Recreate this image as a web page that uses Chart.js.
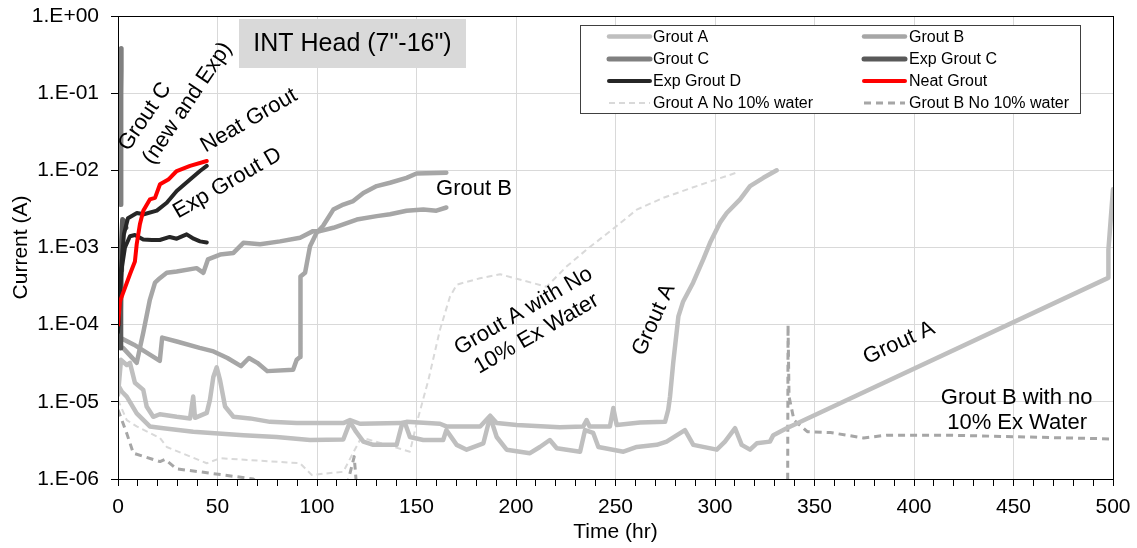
<!DOCTYPE html>
<html><head><meta charset="utf-8">
<script src="https://cdn.jsdelivr.net/npm/chart.js@4.4.1/dist/chart.umd.min.js"></script>
<style>html,body{margin:0;padding:0;background:#fff;overflow:hidden}canvas{display:block}</style>
</head><body>
<canvas id="c" width="1137" height="548" style="width:1137px;height:548px"></canvas>
<script>
const FONT = "'Liberation Sans', Arial, sans-serif";

// ---- tick labels ----
const xLabelValues = [0, 50, 100, 150, 200, 250, 300, 350, 400, 450, 500];
const xTickLabels = ['0','50','100','150','200','250','300','350','400','450','500'];
const yTickValues = [1e-6, 1e-5, 1e-4, 1e-3, 1e-2, 1e-1, 1];
const yTickLabels = ['1.E-06','1.E-05','1.E-04','1.E-03','1.E-02','1.E-01','1.E+00'];

// ---- series: [time (hr), current (A)] ----
const groutA1 = [[0,1.23e-5],[1.5,3.5e-5],[4.4,3.0e-5],[6,3.2e-5],[8.5,1.77e-5],[12.7,1.43e-5],[14.4,8.7e-6],[17.7,6.4e-6],[21,6.9e-6],[29.5,6.4e-6],[36.2,6.1e-6],[37.8,1.17e-5],[38.7,6.2e-6],[44.6,7.2e-6],[46.2,1.06e-5],[47.9,2.1e-5],[49.6,2.8e-5],[51.3,1.9e-5],[53.8,8.7e-6],[58,6.4e-6],[66.3,6.1e-6],[76.4,5.5e-6],[89.8,5.3e-6],[113.2,5.3e-6],[116.6,5.8e-6],[121.6,5.2e-6],[141.7,5.3e-6],[145,5.5e-6],[161.8,5.2e-6],[165,4.8e-6],[182,4.8e-6],[187,6.6e-6],[190.3,5.3e-6],[200.4,5.0e-6],[222,4.7e-6],[233.8,4.8e-6],[235.5,5.8e-6],[237,4.8e-6],[247.2,4.8e-6],[248.9,8.3e-6],[250.6,5.0e-6],[262.3,5.4e-6],[274.9,5.5e-6],[276.5,7.9e-6],[277.4,1.17e-5],[279,3.2e-5],[281.6,1.28e-4],[284,2.0e-4],[289,3.5e-4],[294.1,7.0e-4],[297.5,1.15e-3],[302.5,2.1e-3],[305.9,2.8e-3],[312.6,4.2e-3],[317.6,6.25e-3],[324.3,8.0e-3],[331,1.0e-2]];
const groutA2 = [[0,1.66e-5],[2,1.35e-5],[4.4,1.17e-5],[9.4,7.1e-6],[16,4.8e-6],[22.8,4.55e-6],[37.8,4.1e-6],[63,3.7e-6],[79.7,3.5e-6],[96.5,3.2e-6],[113.2,3.25e-6],[116.6,5.5e-6],[119.6,4.1e-6],[123.3,3.05e-6],[128.3,2.77e-6],[140,2.77e-6],[142.6,5.0e-6],[144.2,5.3e-6],[146.7,3.5e-6],[153.4,3.2e-6],[163.4,3.2e-6],[165,4.3e-6],[170.2,2.77e-6],[175.2,2.4e-6],[183.6,2.9e-6],[187,6.4e-6],[190.3,3.5e-6],[195.3,2.4e-6],[207,2.16e-6],[212,2.6e-6],[217,3.2e-6],[220.5,2.5e-6],[232.2,2.26e-6],[234.7,4.3e-6],[238.8,3.95e-6],[241.4,2.6e-6],[254,2.26e-6],[260.7,2.6e-6],[270.7,2.77e-6],[275.7,3.05e-6],[284.9,4.3e-6],[289.1,2.77e-6],[300.9,2.4e-6],[305,3.05e-6],[310.1,4.55e-6],[313.4,2.77e-6],[317.6,2.4e-6],[321,2.9e-6],[327.6,3.05e-6],[329.3,3.7e-6],[336,4.55e-6],[497.6,4.04e-4],[497.7,9.4e-4],[500,5.7e-3]];
const groutB1 = [[0,7.0e-5],[8,5.5e-5],[16,4.1e-5],[21,3.4e-5],[22.2,6.8e-5],[30,6.0e-5],[41,5.0e-5],[48,4.5e-5],[55,3.7e-5],[61.8,2.9e-5],[65.8,3.7e-5],[70,3.2e-5],[75,2.5e-5],[88,2.6e-5],[89.8,3.5e-5],[91.5,3.8e-5],[91.7,4.2e-4],[94,4.7e-4],[96.5,1.04e-3],[99.8,1.55e-3],[103,1.9e-3],[108.2,3.1e-3],[113.2,3.6e-3],[118.2,4.0e-3],[123.3,5.1e-3],[130,6.25e-3],[136.7,6.9e-3],[145,8.0e-3],[150,9.1e-3],[165,9.3e-3]];
const groutB2 = [[2.5,5e-5],[6,4e-5],[9.4,3.2e-5],[12.7,7.9e-5],[16,2.1e-4],[18.6,3.5e-4],[21,4.0e-4],[24.5,4.7e-4],[29.5,4.9e-4],[39.5,5.4e-4],[42.9,4.7e-4],[45.2,7.0e-4],[51.3,8.1e-4],[58,8.5e-4],[63,1.15e-3],[71.4,1.1e-3],[81.4,1.2e-3],[91.5,1.34e-3],[98,1.63e-3],[101.5,1.63e-3],[108.2,1.8e-3],[120,2.3e-3],[130,2.55e-3],[136.7,2.7e-3],[145,3.0e-3],[153.4,3.1e-3],[160,3.0e-3],[165,3.3e-3]];
const groutC = [[1.3,3.6e-3],[1.4,1.0e-2],[1.5,3.0e-2],[1.5,0.1],[1.6,0.2],[1.6,0.38]];
const expGroutC = [[1.2,5e-5],[1.4,1.5e-4],[1.6,5e-4],[1.8,1.2e-3],[2.3,2.3e-3],[3,2.2e-3],[4,1.8e-3]];
const expGroutD1 = [[0,1.0e-4],[0.3,1.8e-4],[1.9,5.4e-4],[3.5,1.0e-3],[6,1.4e-3],[8.5,1.45e-3],[12.7,1.27e-3],[17,1.25e-3],[21,1.25e-3],[26,1.37e-3],[29.5,1.3e-3],[34.5,1.48e-3],[38,1.3e-3],[41.2,1.2e-3],[44.6,1.16e-3]];
const expGroutD2 = [[0,8e-5],[1.5,5e-4],[3,1.5e-3],[5,2.4e-3],[9.5,2.8e-3],[13,2.7e-3],[19.5,3.0e-3],[24.5,3.8e-3],[29.5,5.4e-3],[36.2,7.6e-3],[41.2,9.8e-3],[44.6,1.14e-2]];
const neatGrout = [[0,1.0e-4],[0.15,1.1e-4],[1,2.0e-4],[3.5,3.0e-4],[6,4.5e-4],[8.5,6.6e-4],[9.4,1.1e-3],[11,2.0e-3],[12.7,3.0e-3],[16,4.2e-3],[18.6,4.4e-3],[21.1,6.6e-3],[25.3,7.6e-3],[29.5,9.8e-3],[36.2,1.14e-2],[44.6,1.32e-2]];
const groutANoWater = [[0,1.06e-5],[4.4,5.8e-6],[9.4,4.8e-6],[21.1,3.4e-6],[24.5,2.6e-6],[44.6,1.6e-6],[51.3,1.86e-6],[91.5,1.6e-6],[97.3,1.13e-6],[113.2,1.24e-6],[117.6,2.05e-6],[121.6,3.2e-6],[123.3,3.4e-6],[146.7,2.26e-6],[150.1,5.3e-6],[156,1.93e-5],[161.8,8.6e-5],[166.8,2.3e-4],[170.2,3.3e-4],[181.9,4.0e-4],[192,4.5e-4],[215.4,3.1e-4],[225.5,5.7e-4],[235.5,9.4e-4],[250.6,1.9e-3],[260.7,3.1e-3],[274,4.4e-3],[290.8,6.25e-3],[311.7,9.5e-3]];
const groutBNoWater = [[0,7.9e-6],[4.4,3.9e-6],[7.7,2.16e-6],[21.1,1.68e-6],[23.6,1.8e-6],[29.5,1.35e-6],[41.2,1.24e-6],[68,1.0e-6],[80,5e-7],[112.9,5e-7],[118.7,1.95e-6],[120.5,5e-7],[336.5,5e-7],[336.7,1.0e-4],[337.2,1.17e-5],[339.7,5.8e-6],[346.4,4.1e-6],[358,4.0e-6],[374.7,3.4e-6],[386.4,3.7e-6],[416.6,3.7e-6],[500,3.3e-6]];

// ---- text annotations (anchored in data units) ----
const annotations = [
  {text:'Grout C', t:13.6, v:4.95e-2, angle:-56},
  {text:'(new and Exp)', t:34.9, v:7.4e-2, angle:-56},
  {text:'Neat Grout', t:65.8, v:4.4e-2, angle:-30},
  {text:'Exp Grout D', t:55, v:6.8e-3, angle:-30},
  {text:'Grout B', t:178.9, v:5.7e-3, angle:0},
  {text:'Grout A with No', t:203.8, v:1.5e-4, angle:-30},
  {text:'10% Ex Water', t:210.3, v:7.6e-5, angle:-30},
  {text:'Grout A', t:269.3, v:1.16e-4, angle:-66},
  {text:'Grout A', t:392.5, v:5.8e-5, angle:-24.5},
  {text:'Grout B with no', t:451.6, v:1.13e-5, angle:0},
  {text:'10% Ex Water', t:451.8, v:5.3e-6, angle:0}
];

const styles = {
  groutA:{color:'#bfbfbf', width:4.5},
  groutB:{color:'#a6a6a6', width:4.5},
  groutC:{color:'#808080', width:5},
  expC:{color:'#595959', width:5},
  expD:{color:'#262626', width:4},
  neat:{color:'#ff0000', width:4},
  dashA:{color:'#d9d9d9', width:2, dash:[6,4]},
  dashB:{color:'#a6a6a6', width:3, dash:[7,5]}
};

const legendItems = [
  {label:'Grout A', s:styles.groutA}, {label:'Grout B', s:styles.groutB},
  {label:'Grout C', s:styles.groutC}, {label:'Exp Grout C', s:styles.expC},
  {label:'Exp Grout D', s:styles.expD}, {label:'Neat Grout', s:styles.neat},
  {label:'Grout A No 10% water', s:styles.dashA}, {label:'Grout B No 10% water', s:styles.dashB}
];

function ds(label, pts, st) {
  return {
    label, data: pts.map(p => ({x:p[0], y:p[1]})),
    borderColor: st.color, backgroundColor: st.color, borderWidth: st.width,
    borderDash: st.dash || [], pointRadius: 0, pointHoverRadius: 0, fill: false, tension: 0,
    borderJoinStyle: 'round', borderCapStyle: st.dash ? 'butt' : 'round'
  };
}

const datasets = [
  ds('Neat Grout', neatGrout, styles.neat),
  ds('Exp Grout D', expGroutD2, styles.expD),
  ds('Exp Grout D 2', expGroutD1, styles.expD),
  ds('Exp Grout C', expGroutC, styles.expC),
  ds('Grout C', groutC, styles.groutC),
  ds('Grout B', groutB1, styles.groutB),
  ds('Grout B 2', groutB2, styles.groutB),
  ds('Grout A', groutA1, styles.groutA),
  ds('Grout A 2', groutA2, styles.groutA),
  ds('Grout B No 10% water', groutBNoWater, styles.dashB),
  ds('Grout A No 10% water', groutANoWater, styles.dashA)
];

const decor = {
  id: 'decor',
  afterDatasetsDraw(chart) {
    const {ctx, chartArea: a, scales: {x, y}} = chart;
    ctx.save();
    // annotations
    ctx.fillStyle = '#000';
    ctx.font = `22px ${FONT}`;
    ctx.textAlign = 'center';
    ctx.textBaseline = 'middle';
    annotations.forEach(an => {
      const px = x.getPixelForValue(an.t), py = y.getPixelForValue(an.v);
      ctx.save(); ctx.translate(px, py); ctx.rotate(an.angle * Math.PI / 180);
      ctx.fillText(an.text, 0, 0); ctx.restore();
    });
    // title box
    ctx.fillStyle = '#d9d9d9';
    ctx.fillRect(239, 19, 227, 49);
    ctx.fillStyle = '#000';
    ctx.font = `25px ${FONT}`;
    ctx.fillText('INT Head (7"-16")', 352.5, 44);
    // legend
    const L = {x:580, y:25, w:500, h:88};
    ctx.fillStyle = '#fff';
    ctx.fillRect(L.x, L.y, L.w, L.h);
    ctx.strokeStyle = '#404040'; ctx.lineWidth = 1; ctx.setLineDash([]);
    ctx.strokeRect(L.x + 0.5, L.y + 0.5, L.w, L.h);
    const rowsY = [36.5, 59, 81, 103];
    const cols = [{x1:609, x2:650, tx:653}, {x1:864, x2:905, tx:909}];
    ctx.font = `16px ${FONT}`;
    ctx.textAlign = 'left';
    legendItems.forEach((it, i) => {
      const c = cols[i % 2], ry = rowsY[Math.floor(i / 2)];
      ctx.strokeStyle = it.s.color; ctx.lineWidth = it.s.width;
      ctx.setLineDash(it.s.dash || []);
      ctx.lineCap = it.s.dash ? 'butt' : 'round';
      ctx.beginPath(); ctx.moveTo(c.x1, ry); ctx.lineTo(c.x2, ry); ctx.stroke();
      ctx.setLineDash([]);
      ctx.fillStyle = '#000';
      ctx.fillText(it.label, c.tx, ry + 1);
    });
    // plot frame
    ctx.strokeStyle = '#000'; ctx.lineWidth = 1; ctx.lineCap = 'butt';
    ctx.strokeRect(Math.round(a.left) + 0.5, Math.round(a.top) + 0.5, Math.round(a.right - a.left), Math.round(a.bottom - a.top));
    ctx.restore();
  }
};

new Chart(document.getElementById('c'), {
  type: 'line',
  data: { datasets },
  plugins: [decor],
  options: {
    responsive: false, animation: false, devicePixelRatio: 1,
    layout: { padding: { left: 0, right: 24, top: 16, bottom: 0 } },
    plugins: { legend: { display: false }, tooltip: { enabled: false } },
    scales: {
      x: {
        type: 'linear', min: 0, max: 500,
        afterBuildTicks: s => { const t = []; for (let v = 0; v <= 500; v += 10) t.push({value: v}); s.ticks = t; },
        ticks: {
          autoSkip: false, maxRotation: 0, color: '#000', padding: 9,
          font: { family: FONT, size: 21 },
          callback: v => { const i = xLabelValues.indexOf(v); return i >= 0 ? xTickLabels[i] : ''; }
        },
        grid: {
          color: c => (c.tick && c.tick.value % 50 === 0) ? '#d9d9d9' : 'rgba(0,0,0,0)',
          tickColor: '#000', tickLength: 7, lineWidth: 1
        },
        border: { color: '#000', width: 1 },
        title: { display: true, text: 'Time (hr)', color: '#000', font: { family: FONT, size: 21 }, padding: { top: 0, bottom: 3 } },
        afterFit: s => { s.height = 69; s.paddingLeft = 0; s.paddingRight = 0; }
      },
      y: {
        type: 'logarithmic', min: 1e-6, max: 1,
        afterBuildTicks: s => { s.ticks = yTickValues.map(v => ({value: v})); },
        ticks: {
          autoSkip: false, color: '#000', padding: 12,
          font: { family: FONT, size: 21 },
          callback: (v, i) => yTickLabels[i]
        },
        grid: { color: '#d9d9d9', tickColor: '#000', tickLength: 7, lineWidth: 1 },
        border: { color: '#000', width: 1 },
        title: { display: true, text: 'Current (A)', color: '#000', font: { family: FONT, size: 21 }, padding: { top: 9, bottom: 0 } },
        afterFit: s => { s.width = 118; s.paddingTop = 0; s.paddingBottom = 0; }
      }
    }
  }
});
</script>
</body></html>
